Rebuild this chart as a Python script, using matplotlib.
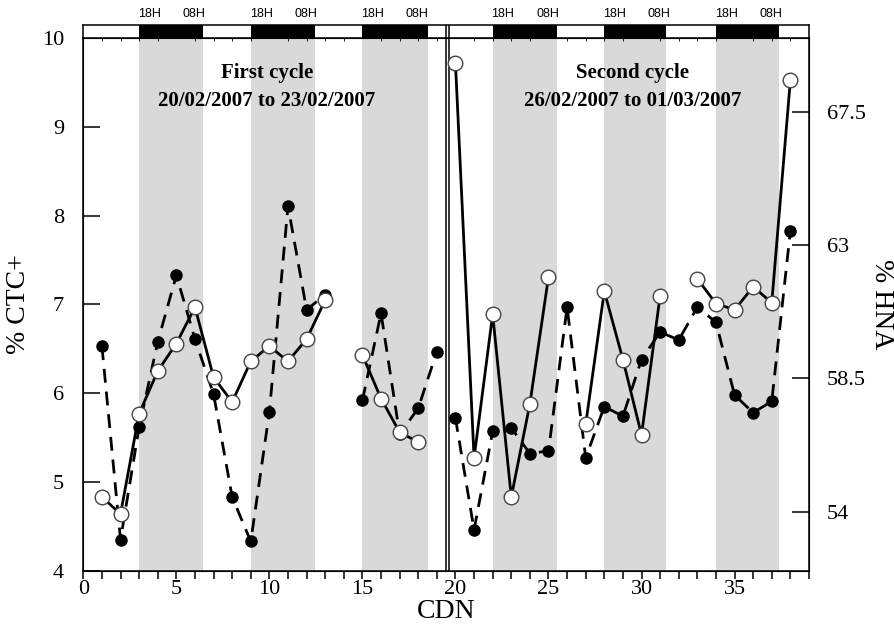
import numpy as np
import matplotlib
matplotlib.use("Agg")
import matplotlib.pyplot as plt
from matplotlib import rcParams

rcParams['font.family'] = 'serif'
rcParams['font.serif'] = ['Liberation Serif', 'DejaVu Serif']

# sampling day number, two cycles
cdn = np.arange(1, 39)

# % CTC+ (filled dots, dashed), NaN where no sample
ctc = np.array([6.53, 4.35, 5.62, 6.58, 7.33, 6.61, 5.99, 4.83, 4.33, 5.79,
                8.11, 6.94, 7.11, np.nan, 5.92, 6.90, 5.54, 5.83, 6.47,
                5.72, 4.46, 5.57, 5.61, 5.32, 5.35, 6.97, 5.27, 5.85, 5.74,
                6.38, 6.69, 6.60, 6.97, 6.80, 5.98, 5.78, 5.91, 7.83])

# % HNA (open circles, solid)
hna = np.array([54.49, 53.92, 57.31, 58.75, 59.68, 60.91, 58.54, 57.70, 59.08, 59.59,
                59.08, 59.83, 61.15, np.nan, 59.29, 57.82, 56.68, 56.35, np.nan,
                69.16, 55.81, 60.67, 54.49, 57.64, 61.93, np.nan, 56.95, 61.45, 59.14,
                56.59, 61.30, np.nan, 61.87, 61.03, 60.82, 61.60, 61.06, 68.59])

# dark periods (18H -> 08H)
night_start = [3, 9, 15, 22, 28, 34]
night_end = [6.45, 12.45, 18.5, 25.45, 31.3, 37.4]

cycle_split = 19  # index where the second cycle starts
cycle_names = ["First cycle", "Second cycle"]
cycle_dates = ["20/02/2007 to 23/02/2007", "26/02/2007 to 01/03/2007"]
cycle_centre = [9.87, 29.5]

fig = plt.figure(figsize=(8.94, 6.29), dpi=100)
ax = fig.add_axes([0.0932, 0.0927, 0.8117, 0.8464])
band = fig.add_axes([0.0932, 0.9391, 0.8117, 0.0212], sharex=ax)

for s, e in zip(night_start, night_end):
    ax.axvspan(s, e, color="#d9d9d9", lw=0, zorder=0)
    band.axvspan(s, e, color="black", lw=0)
    band.text(s + 0.55, 1.8, "18H", transform=band.get_xaxis_transform(),
              ha="center", va="center", fontsize=9, family="Liberation Sans")
    band.text(s + 2.95, 1.8, "08H", transform=band.get_xaxis_transform(),
              ha="center", va="center", fontsize=9, family="Liberation Sans")

# double line between the two cycles
for a in (ax, band):
    for xv in (19.47, 19.66):
        a.axvline(xv, color="black", lw=1.1, zorder=5)

band.set_ylim(0, 1)
band.set_yticks([])
band.tick_params(axis="x", bottom=False, labelbottom=False)
for sp in band.spines.values():
    sp.set_linewidth(1.1)

ax.set_xlim(0, 39)
ax.set_ylim(4, 10)
ax.set_xticks(np.arange(0, 40, 5))
ax.set_xticks(np.arange(0, 40, 1), minor=True)
ax.tick_params(axis="x", which="both", direction="out", length=6, width=1.1,
               labelsize=16, pad=1)
ax.tick_params(axis="y", direction="in", length=12, width=1.1, labelsize=16, pad=14)
for sp in ax.spines.values():
    sp.set_linewidth(1.1)

ax2 = ax.twinx()
ax2.set_ylim(52, 70)
ax2.set_yticks([54, 58.5, 63, 67.5])
ax2.set_yticklabels(["54", "58.5", "63", "67.5"])
ax2.tick_params(axis="y", direction="in", length=12, width=1.1, labelsize=16, pad=13)

for sl in (slice(0, cycle_split), slice(cycle_split, None)):
    ax.plot(cdn[sl], ctc[sl], color="black", lw=2.0, ls=(0, (5, 3.2)),
            marker="o", ms=8, mfc="black", mec="black", zorder=3)
    ax2.plot(cdn[sl], hna[sl], color="black", lw=2.0, ls="-",
             marker="o", ms=10.5, mfc="white", mec="#444444", mew=1.0, zorder=4)

for xc, name, dates in zip(cycle_centre, cycle_names, cycle_dates):
    ax.text(xc, 9.61, name, ha="center", va="center",
            fontsize=15, fontweight="bold", zorder=6)
    ax.text(xc, 9.29, dates, ha="center", va="center",
            fontsize=15, fontweight="bold", zorder=6)

ax.set_xlabel("CDN", fontsize=20, labelpad=0)
ax.set_ylabel("% CTC+", fontsize=20, labelpad=8)
ax2.set_ylabel("% HNA", fontsize=20, rotation=270, labelpad=20)

fig.savefig("out.png", dpi=100)
